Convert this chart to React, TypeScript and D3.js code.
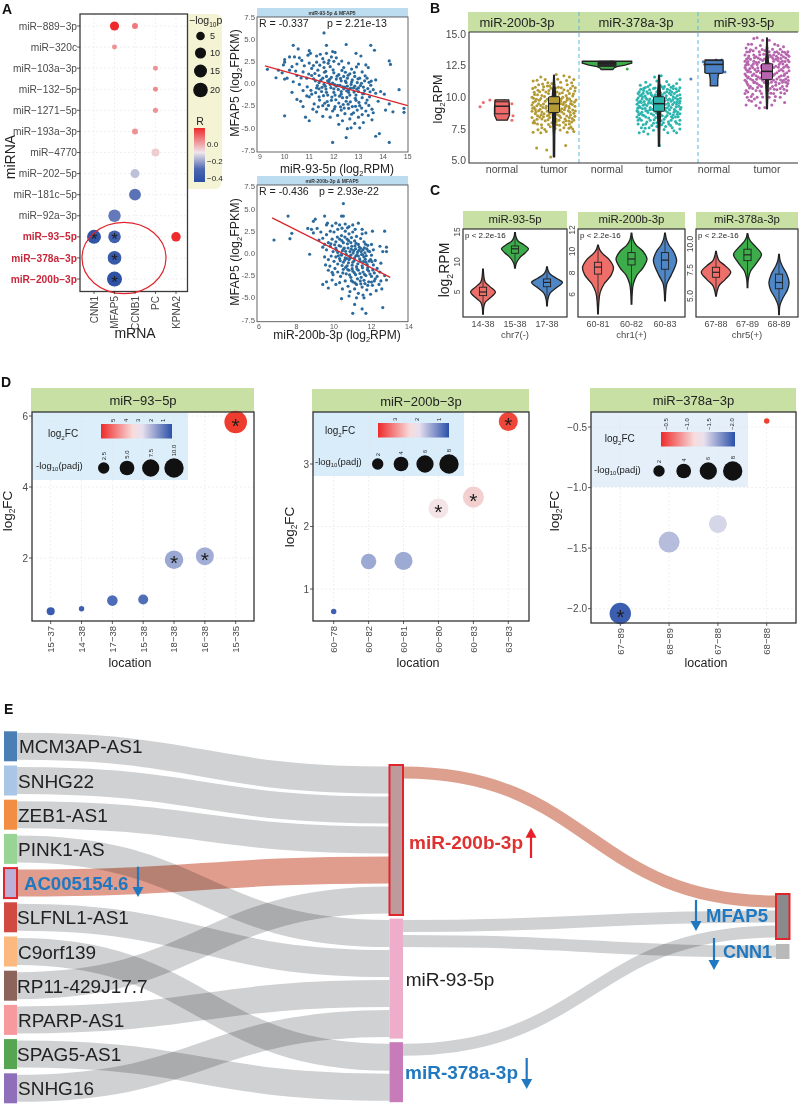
import * as d3 from "d3";

const FONT = "'Liberation Sans', Arial, sans-serif";
const MINUS = "\u2212";

// ---- panel A: bubble matrix
const mirnas = ["miR-889-3p", "miR-320c", "miR-103a-3p", "miR-132-5p", "miR-1271-5p", "miR-193a-3p", "miR-4770", "miR-202-5p", "miR-181c-5p", "miR-92a-3p", "miR-93-5p", "miR-378a-3p", "miR-200b-3p"];
const mrnas = ["CNN1", "MFAP5", "CCNB1", "PC", "KPNA2"];
const redMirnas = ["miR-93-5p", "miR-378a-3p", "miR-200b-3p"];
// mirna, mrna, R, -log10p, starred
const bubbles: [string, string, number, number, boolean][] = [
  ["miR-889-3p", "MFAP5", 0.19, 6, false],
  ["miR-889-3p", "CCNB1", 0.07, 1.6, false],
  ["miR-320c", "MFAP5", 0.03, 0.8, false],
  ["miR-103a-3p", "PC", 0.03, 0.8, false],
  ["miR-132-5p", "PC", 0.04, 0.8, false],
  ["miR-1271-5p", "PC", 0.03, 0.9, false],
  ["miR-193a-3p", "CCNB1", 0.03, 1.6, false],
  ["miR-4770", "PC", -0.06, 4, false],
  ["miR-202-5p", "CCNB1", -0.16, 5.7, false],
  ["miR-181c-5p", "CCNB1", -0.28, 12, false],
  ["miR-92a-3p", "MFAP5", -0.27, 13.5, false],
  ["miR-93-5p", "CNN1", -0.42, 18, true],
  ["miR-93-5p", "MFAP5", -0.337, 14, true],
  ["miR-93-5p", "KPNA2", 0.19, 6.5, false],
  ["miR-378a-3p", "MFAP5", -0.38, 17, true],
  ["miR-200b-3p", "MFAP5", -0.436, 21.5, true],
];
const pLegend = [5, 10, 15, 20];
const rLegend = [0, -0.2, -0.4];

// ---- panel A: scatter plots
const scatter93: [number, number][] = [
  [11.6,5.7],[10.35,4.3],[10.55,3.9],[11.7,4.3],[12.5,4.4],[13.5,4.3],[13.65,3.75],[9.3,1.6],[9.65,.65],[10,-3.65],[10.85,-3.8],[11,-4.2],[11.95,-6.65],[12.5,-6.1],[14.25,-6.65],[13.7,-5.95],[13.85,-5.65],[14.25,2.55],[14.3,2.15],[14.65,-.7],[14.85,-2.8],[14.85,-3.25],[14.4,-3.2],
  [10,2.7],[10,2.4],[9.95,2.1],[10.2,3],[10.4,3],[10.6,2.9],[10.7,2.6],[10.95,3.2],[11,3.7],[11.05,3.4],[11.3,3.1],[11.45,3.3],[11.55,2.8],[11.7,3.4],[11.9,3],[11.95,3.6],[12.05,3.5],[12.1,2.9],[11.8,2.6],[12,2.5],[11.6,2.4],[11.3,2.4],[11,2.3],[10.8,2],[10.5,2.2],[10.3,1.9],[9.75,1.5],[9.9,1.2],[10.2,1.5],[10.45,1.4],[10.75,1.3],[11.1,1.7],[11.35,1.5],[11.6,1.8],[11.85,1.9],[12.2,2.2],[12.4,1.8],[12.6,2.3],[12.9,3.4],[13,2.2],[13.1,3.1],[13.3,2.1],[13.4,1.8],[13.7,.4],[13.9,-.9],[14.05,-1.2],[14.25,-2.3],[14.1,-3],
  [10,.5],[10.1,.6],[10.35,.2],[10.6,-.1],[10.5,.9],[10.9,.6],[11.1,.9],[11.25,.3],[11.4,.9],[11.55,.6],[11.7,.8],[11.8,.2],[11.9,.7],[12,1.2],[12.1,.5],[12.2,1],[12.3,.3],[12.4,.8],[12.5,.1],[12.55,.6],[12.65,1.1],[12.75,.4],[12.85,.8],[12.95,.1],[13.05,.6],[13.15,1.3],[13.25,.3],[13.35,.6],[13.5,-.2],[13.6,-.7],
  [10.3,-1],[10.5,-1.8],[10.65,-2],[10.75,-.8],[10.9,-1.4],[11,-1.5],[11.1,-1.2],[11.2,-2.3],[11.3,-.5],[11.4,-1.5],[11.5,-.9],[11.55,-2.5],[11.65,-.3],[11.75,-1.3],[11.85,-.1],[11.9,-1.9],[12,-.6],[12.05,-1.3],[12.15,-.2],[12.2,-2.2],[12.3,-.9],[12.35,-1.6],[12.45,-.4],[12.5,-2],[12.6,-.7],[12.65,-1.3],[12.75,-2.6],[12.8,-.5],[12.9,-1.9],[13,-.9],[13.05,-2.5],[13.15,-1.6],[13.25,-.8],[13.3,-2.2],[13.45,-1.5],[13.55,-2.9],[13.7,-1.1],[13.8,-2],
  [10.75,-2.6],[11.15,-2.9],[11.3,-3.2],[11.55,-3.7],[11.7,-2.9],[11.85,-3.8],[11.95,-3.1],[12.05,-2.6],[12.15,-3.6],[12.2,-4.6],[12.3,-3],[12.35,-4.2],[12.45,-3.4],[12.55,-5.1],[12.6,-2.8],[12.65,-4],[12.7,-5],[12.8,-3.3],[12.85,-4.5],[12.95,-3],[13,-3.8],[13.05,-5],[13.15,-3.5],[13.2,-4.4],[13.3,-3.1],[13.4,-3.6],[13.55,-4.1],[13.6,-3.3],
  [11.4,.1],[11.6,-.1],[11.75,.3],[11.95,.05],[12.1,-.3],[12.25,-.2],[12.4,-.6],[12.55,-.3],[12.7,-.1],[12.85,-.3],[13,-.5],[13.2,-.4],[12,-1],[12.3,-1.2],[12.6,-1],[12.9,-1.3],[11.7,-1],[11.4,-.6],
  [11.23,1.13],[11.47,.37],[11.62,1.27],[11.83,.47],[11.97,1.53],[12.13,.83],[12.27,.57],[12.33,1.47],[12.47,.27],[12.58,.93],[12.72,.17],[12.83,1.23],[12.98,.53],[13.12,.03],[13.27,.87],[13.43,.13],[11.33,-.23],[11.52,-.43],[11.68,-.63],[11.88,-.47],[12.03,-.13],[12.18,-.67],[12.36,-.37],[12.52,-.83],[12.68,-.53],[12.82,-.97],[12.93,-.63],[13.08,-.23],[13.22,-1.13],[13.38,-.57],
  [11.07,-.77],[11.26,-1.03],[11.42,-1.87],[11.58,-1.37],[11.73,-2.03],[11.92,-1.53],[12.08,-1.83],[12.23,-1.43],[12.38,-2.37],[12.53,-1.57],[12.67,-2.07],[12.87,-1.67],[13.02,-2.13],[13.17,-1.17],[13.35,-1.87],[13.47,-.93],[11.37,-2.63],[11.63,-2.23],[11.78,-2.47],[12.02,-2.87],[12.27,-2.63],[12.42,-2.77],[12.58,-2.33],[12.72,-3.47],[12.88,-2.57],[13.13,-2.77],[13.42,-2.47],[10.92,-.37],[10.67,.63],[10.98,1.07],[11.17,2.03],[11.43,2.07],[11.77,2.27],[12.32,2.53],[12.72,1.63],[12.92,1.87],[11.67,1.37],[12.47,1.27],[11.18,.53],[13.52,.27],
];
const scatter200: [number, number][] = [
  [6.8,1.5],[7.55,4.2],[7.75,2.25],[7.65,1.65],[10.5,5.6],[10.4,4.2],[10.5,4.2],[9.5,4.2],[9,3.85],[8.9,3.6],[11,-6.75],[11.7,-6.75],[11.5,-6.25],[11.1,-5.75],[12.6,-6.1],[10.4,-5.1],[8.7,-.1],[12.8,.2],[12.6,.2],[12.45,.8],[12.8,.7],[12.7,2.5],[12.05,2.5],[12.8,-3],[12.7,-2.5],
  [8.6,2.8],[8.8,2.7],[8.9,2.3],[9.1,2.8],[9.3,2.4],[9.6,3.2],[9.65,3.4],[9.9,3.1],[10.1,3.4],[10.3,3.2],[10.6,3.3],[10.8,3],[11,3.2],[11.3,3.4],[11.5,2.7],[9.2,1.5],[9.4,1.7],[9.6,2.1],[9.8,2.5],[10,2.4],[10.2,2.7],[10.4,2],[10.6,2.5],[10.8,2.2],[11,2.4],[11.2,1.9],[11.5,2.2],[11.7,2.3],[9.5,1],[9.7,1.2],[9.9,1.6],[10.1,1.3],[10.3,1.6],[10.5,1.2],[10.7,1.6],[10.9,1.2],[11.1,1.4],[11.3,1],[11.6,1.3],[11.8,.9],[12,1],
  [9.4,.7],[9.6,.4],[9.8,.8],[9.95,.2],[10.1,.6],[10.2,.1],[10.35,.8],[10.45,.3],[10.55,.6],[10.65,-.1],[10.75,.6],[10.85,.2],[10.95,.8],[11.05,.3],[11.15,.5],[11.25,.1],[11.35,.7],[11.45,.2],[11.55,.4],[11.65,.05],[11.75,.5],[11.9,.2],[12,-.2],[12.1,.4],
  [9.5,-.4],[9.7,-.7],[9.85,-.3],[10,-.9],[10.1,-.4],[10.2,-1.2],[10.3,-.6],[10.4,-.2],[10.5,-1],[10.6,-.5],[10.7,-1.4],[10.8,-.7],[10.9,-.2],[11,-1],[11.1,-.5],[11.2,-1.5],[11.3,-.3],[11.4,-.9],[11.5,-1.4],[11.6,-.4],[11.7,-1],[11.8,-1.6],[11.95,-.7],[12.1,-1.3],[12.2,-.8],[12.3,-1.7],[12.5,-1.1],
  [9.7,-1.9],[9.95,-2.4],[10.05,-1.7],[10.2,-2.1],[10.35,-2.6],[10.5,-1.8],[10.65,-2.3],[10.8,-1.9],[10.9,-2.7],[11,-2],[11.15,-2.4],[11.3,-1.9],[11.45,-2.7],[11.55,-2.1],[11.7,-2.5],[11.85,-2],[12,-2.6],[12.15,-2.2],[12.3,-2.6],[12.45,-2.1],
  [9.4,-3.5],[9.6,-3.2],[9.7,-3.9],[9.9,-3],[10.1,-3.5],[10.3,-3.3],[10.45,-4],[10.6,-3.1],[10.75,-3.7],[10.85,-4.3],[11,-3.2],[11.1,-4],[11.2,-3.5],[11.3,-4.5],[11.4,-3.1],[11.5,-3.8],[11.55,-4.7],[11.65,-3.4],[11.75,-4.1],[11.85,-3.2],[11.95,-4.6],[12.05,-3.6],[12.15,-3.1],[12.25,-4.2],[12.4,-3.5],[12.55,-4],[12.5,-3.1],[11.2,-5],[10.8,-4.8],[11.6,-5],
  [10.13,.37],[10.27,.87],[10.38,-.13],[10.52,.53],[10.62,.23],[10.72,1.07],[10.82,-.33],[10.92,.47],[11.02,.03],[11.12,.83],[11.22,-.23],[11.32,.33],[11.42,.57],[11.52,-.17],[11.62,.63],[11.72,-.27],[11.82,.27],[10.23,-.27],[10.33,-.83],[10.43,-1.37],[10.57,-.77],[10.67,-.57],[10.77,-1.07],[10.87,-.53],[10.97,-1.33],[11.07,-.83],[11.17,-.27],[11.27,-1.17],[11.37,-.63],[11.47,-.13],[11.57,-.93],[11.67,-.67],[11.77,-1.27],[11.87,-.87],[12.02,-.93],[10.47,-2.2],[10.62,-1.57],[10.73,-1.83],[10.83,-2.43],[10.97,-1.73],[11.08,-2.17],[11.23,-1.77],[11.38,-2.27],[11.52,-1.63],[11.63,-2.37],[11.78,-1.83],[11.92,-2.33],[12.07,-1.87],[10.93,-3.07],[11.12,-3.33],[11.25,-2.87],[11.43,-3.43],[11.6,-3.03],[11.8,-3.6],[12,-3.23],[12.2,-2.87],[9.83,1.07],[10.03,.97],[10.18,1.83],[10.42,1.43],[10.58,1.83],[10.78,1.43],[10.93,1.77],[11.18,1.13],[11.42,1.67],[11.68,1.03],[10.43,2.83],[10.72,2.87],[11.13,2.7],[9.55,-1.3],[9.78,-1.43],[9.9,-2.13],
];
const line93: [number, number][] = [[9.2, 2.0], [15, -2.5]];
const line200: [number, number][] = [[6.7, 4.0], [13, -2.7]];
const scatterYTicks = [7.5, 5, 2.5, 0, -2.5, -5, -7.5];

// ---- panel B: jitter + violin + box
const jitterNormal200: [number, number][] = [[-1,9.25],[-.85,9.6],[-.55,9.8],[.45,9.5],[.5,8.55],[.45,8.2],[-.3,9.7],[.1,9.75]];
const jitterNormal378: [number, number][] = [[.92,12.24],[-.6,12.7],[.2,12.8]];
const jitterNormal93: [number, number][] = [[-1.05,11.45],[.35,12.95],[.3,12.3],[.5,12],[-.49,12.8],[-.42,12.6],[.1,12.95]];
const jitterTumor200: [number, number][] = [
  [-.79,6],[-.15,5.3],[-.33,5.85],[.53,6.2],[-.95,11.3],[-.85,10.8],[-.6,11.6],[-.4,11.4],[.1,11.8],[.45,11.7],[.7,11.6],[.9,11.4],[.3,11.2],[-.1,11.1],[-.7,11],[.6,11],[-.3,10.9],[.2,10.8],[.85,10.9],[-.9,10.4],[-.5,10.6],[0,10.5],[.45,10.6],[.95,10.5],[-.75,10.2],[-.25,10.3],[.25,10.3],[.7,10.3],[-1,10],[-.6,9.9],[-.1,10],[.4,10],[.85,10.1],[-.85,9.7],[-.4,9.7],[.15,9.8],[.6,9.8],[1,9.8],[-1,9.4],[-.7,9.5],[-.2,9.5],[.3,9.5],[.75,9.5],[-.9,9.2],[-.5,9.2],[-.05,9.2],[.5,9.2],[.95,9.3],[-1,8.9],[-.7,8.95],[-.3,8.9],[.2,9],[.65,8.95],[-.85,8.7],[-.45,8.7],[.05,8.7],[.45,8.7],[.9,8.75],[-1,8.4],[-.65,8.45],[-.2,8.4],[.3,8.4],[.7,8.4],[-.9,8.15],[-.4,8.15],[.1,8.1],[.55,8.15],[.9,8.2],[-.75,7.9],[-.25,7.85],[.25,7.8],[.7,7.9],[-.55,7.6],[.05,7.55],[.45,7.6],[.85,7.5],[-.95,7.25],[-.35,7.3],[.6,7.25],[.9,7.3],[-.6,7.2],
  [-.97,10.7],[-.2,10.9],[.75,10.7],[-.55,10.15],[.05,10.2],[.55,10.15],[-.8,9.85],[-.3,9.85],[.3,9.7],[.78,9.7],[-.6,9.35],[.1,9.4],[.55,9.35],[-.85,9.05],[-.15,9.05],[.35,9.1],[.85,9],[-.55,8.85],[.1,8.85],[.75,8.6],[-.75,8.55],[-.3,8.55],[.25,8.55],[.95,8.5],[-.55,8.3],[.1,8.3],[.5,8.3],[-.95,8],[-.1,8],[.8,8.05],[-.65,10.45],[.2,10.05],[.6,9.95],[-.05,9.65],[.45,9.6],[-.95,9.6],[-.35,9.3],[.7,9.15],[-.2,8.75],[.35,8.85],
  [-.88,10.23],[-.73,10.57],[-.47,10.83],[-.13,10.71],[.13,10.43],[.38,10.37],[.63,10.53],[.88,10.27],[-.93,9.93],[-.67,9.77],[-.43,10.07],[-.18,9.89],[.08,9.93],[.33,9.87],[.52,9.63],[.71,9.87],[.93,9.63],[-.78,9.33],[-.48,9.47],[-.12,9.37],[.22,9.27],[.42,9.43],[.67,9.27],[.83,9.43],[-.97,9.13],[-.63,9.07],[-.37,9.13],[-.02,9.02],[.27,8.97],[.47,9.03],[.73,8.83],[.97,8.93],[-.82,8.85],[-.58,8.63],[-.23,8.63],[.03,8.47],[.17,8.63],[.58,8.53],[.83,8.33],[-.77,8.27],[-.48,8.47],[-.27,8.23],[.23,8.2],[.43,8.03],[.68,8.13],[-.88,7.97],[-.57,7.83],[-.17,7.67],[.12,7.83],[.53,7.83],[.77,7.65],[-.73,7.45],[-.42,7.47],[.28,7.42],[.68,7.57],[-.23,10.55],[.33,10.75],[.57,11.33],[-.77,11.35],[-.28,11.15],[.8,11.15],[.17,11.43],[-.52,11.05],[.97,10.75],[-.37,10.43],[.07,10.73],
];
const jitterTumor378: [number, number][] = [
  [.02,6.2],[-.9,7.2],[-.7,7.3],[-.5,7.1],[.4,7.2],[.8,7.2],[-.25,7.4],[.95,7.5],[-.8,7.6],[-.45,7.6],[.6,7.6],[-.1,7.7],[.3,7.7],[-.95,7.9],[-.6,7.9],[-.25,7.95],[.45,7.9],[.8,7.95],[-.8,8.2],[-.4,8.2],[.1,8.15],[.55,8.2],[.95,8.2],[-1,8.45],[-.6,8.45],[-.15,8.4],[.3,8.45],[.75,8.45],[-.85,8.7],[-.35,8.7],[.05,8.65],[.5,8.7],[.95,8.7],[-1,8.95],[-.6,8.95],[-.2,8.9],[.3,8.95],[.75,8.95],[-.85,9.2],[-.4,9.2],[.1,9.15],[.55,9.2],[1,9.2],[-1,9.45],[-.65,9.45],[-.25,9.45],[.3,9.45],[.8,9.45],[-.85,9.7],[-.45,9.7],[.05,9.7],[.55,9.7],[.95,9.7],[-.95,9.95],[-.6,9.95],[-.2,9.95],[.3,9.95],[.75,9.95],[-.8,10.2],[-.35,10.2],[.15,10.2],[.55,10.2],[.95,10.2],[-.9,10.45],[-.55,10.45],[-.1,10.45],[.35,10.45],[.8,10.45],[-.7,10.7],[-.25,10.7],[.2,10.7],[.65,10.7],[.95,10.75],[-.85,10.95],[-.4,11],[.05,10.95],[.45,11],[.8,11.1],[-.6,11.2],[-.1,11.3],[.35,11.25],[.95,11.4],[-.2,11.6],[.1,11.7],
  [-.95,8.2],[-.55,8.05],[-.1,8],[.2,8],[.75,8.1],[-.75,8.6],[-.25,8.6],[.15,8.55],[.65,8.6],[-.95,8.85],[-.5,8.8],[.4,8.8],[.85,8.85],[-.75,9.1],[-.3,9.05],[.2,9.05],[.7,9.05],[-.9,9.3],[-.55,9.35],[0,9.3],[.45,9.35],[.9,9.3],[-.8,9.6],[-.35,9.55],[.2,9.6],[.7,9.6],[-1,9.8],[-.55,9.85],[-.1,9.85],[.4,9.8],[.85,9.85],[-.75,10.05],[-.3,10.1],[.1,10.05],[.65,10.05],[-.95,10.3],[-.5,10.3],[.25,10.35],[.7,10.3],[-.7,10.55],[0,10.6],[.5,10.55],[.9,10.55],[-.5,10.85],[.25,10.85],[.65,10.9],
  [-.88,8.33],[-.68,8.57],[-.47,8.37],[-.22,8.23],[.03,8.37],[.23,8.27],[.43,8.07],[.62,8.37],[.87,8.47],[-.92,8.63],[-.53,8.93],[-.12,8.77],[.37,8.57],[.57,8.47],[.83,8.67],[-.78,8.83],[-.42,9.03],[-.07,9.03],[.28,9.13],[.48,9.03],[.68,8.83],[.97,9.07],[-.97,9.13],[-.63,9.13],[-.17,9.23],[.13,9.33],[.38,9.17],[.78,9.23],[-.72,9.37],[-.48,9.53],[-.13,9.53],[.08,9.57],[.42,9.53],[.62,9.43],[.93,9.53],[-.93,9.6],[-.67,9.67],[-.28,9.73],[.27,9.73],[.48,9.87],[.82,9.67],[-.77,9.87],[-.42,9.87],[.03,9.97],[.17,9.87],[.63,9.83],[.97,9.93],[-.87,10.13],[-.63,10.1],[-.17,10.2],[.33,10.13],[.47,10.33],[.83,10.13],[-.72,10.33],[-.38,10.37],[.07,10.37],[.58,10.43],[.78,10.67],[-.83,10.63],[-.43,10.6],[-.17,10.73],[.38,10.63],[-.62,10.77],[.12,10.83],[.55,10.8],[-.72,7.83],[-.33,7.77],[.12,7.83],[.53,7.77],[.93,7.87],[-.63,7.57],[.23,7.47],[.68,7.37],
];
const jitterTumor93: [number, number][] = [
  [-.85,14.2],[-.6,14.65],[-.45,14.7],[-.2,14.5],[.1,14.5],[-.7,14.2],[-.3,14.1],[.35,14.2],[.5,14.1],[.75,14],[-.95,13.9],[-.5,13.9],[0,13.9],[.25,13.8],[.6,13.8],[.95,13.6],[-.8,13.6],[-.35,13.6],[.1,13.6],[.45,13.6],[.8,13.55],[-1,13.35],[-.6,13.35],[-.15,13.4],[.3,13.35],[.65,13.35],[1,13.25],[-.85,13.1],[-.4,13.1],[.05,13.15],[.5,13.1],[.85,13.1],[-1,12.85],[-.6,12.85],[-.2,12.9],[.3,12.85],[.7,12.85],[1,12.8],[-.85,12.6],[-.45,12.6],[.1,12.65],[.55,12.6],[.9,12.55],[-1,12.35],[-.65,12.35],[-.25,12.35],[.3,12.35],[.75,12.35],[-.85,12.1],[-.4,12.1],[.05,12.1],[.55,12.1],[1,12.1],[-1,11.85],[-.6,11.85],[-.15,11.85],[.35,11.85],[.8,11.85],[-.85,11.6],[-.4,11.6],[.1,11.6],[.55,11.6],[.95,11.6],[-1,11.35],[-.65,11.35],[-.2,11.35],[.3,11.35],[.75,11.35],[-.9,11.1],[-.45,11.1],[.05,11.1],[.55,11.1],[.95,11.1],[-.75,10.85],[-.25,10.85],[.25,10.85],[.7,10.85],[-.95,10.55],[-.5,10.55],[.05,10.55],[.45,10.6],[.9,10.55],[-1,10.3],[-.65,10.25],[-.25,10.3],[.3,10.3],[.8,10.3],[-.9,10],[-.45,10],[.1,10],[.6,10],[-.7,9.7],[-.3,9.6],[.35,9.75],[.8,9.6],[-.95,9.4],[-.5,9.35],[-.35,9.15],[-.1,9.2],
  [-.75,13.75],[-.1,13.7],[.35,13.55],[.7,13.6],[-.5,13.2],[.2,13.2],[.75,13.2],[-.75,13],[-.3,13],[.4,13],[.95,12.95],[-.9,12.7],[-.5,12.75],[.6,12.75],[-.7,12.5],[-.25,12.5],[.4,12.45],[.85,12.45],[-.95,12.2],[-.55,12.2],[.65,12.2],[-.75,12],[-.3,11.95],[.45,11.95],[.9,11.95],[-.95,11.7],[-.5,11.7],[.65,11.7],[-.75,11.45],[-.3,11.5],[.45,11.45],[.85,11.45],[-.55,11.2],[.2,11.2],[.7,11.2],[-.85,10.95],[-.35,10.95],[.4,10.95],[.9,10.9],[-.65,10.7],[.15,10.7],[.6,10.7],
  [-.92,13.57],[-.63,13.67],[-.22,13.77],[.53,13.47],[.87,13.43],[-.83,13.27],[-.33,13.37],[.13,13.33],[.43,13.25],[.93,13.37],[-.93,13.03],[-.57,13.13],[-.12,13.03],[.27,13.07],[.63,13.07],[-.87,12.83],[-.38,12.77],[.02,12.87],[.5,12.9],[.82,12.83],[-.97,12.53],[-.62,12.63],[-.07,12.47],[.23,12.6],[.72,12.63],[-.78,12.27],[-.42,12.33],[.12,12.33],[.52,12.37],[.97,12.37],[-.88,12.03],[-.47,12.03],[.17,12],[.73,12.07],[-.67,11.73],[-.22,11.67],[.28,11.73],[.78,11.73],[-.88,11.53],[-.47,11.43],[.17,11.45],[.62,11.37],[.97,11.33],[-.93,11.23],[-.6,11.17],[-.12,11.17],[.4,11.2],[.85,11.2],[-.8,10.73],[-.43,10.77],[.33,10.63],[.77,10.63],[-.87,10.43],[-.32,10.5],[.17,10.33],[.63,10.37],[-.72,10.07],[-.2,10.03],[.38,10.07],[-.57,9.87],[-.82,9.77],[.22,9.4],
];
const normal200Violin: [number, number][] = [[8.2,.7],[8.6,1],[9.2,1],[9.8,.9]];
const tumor200Violin: [number, number][] = [[5.3,.08],[7,.1],[7.6,.14],[8.5,.2],[9.5,.28],[10.5,.18],[11,.1],[11.75,.04]];
const normal378Violin: [number, number][] = [[12.2,.8],[12.3,.9],[12.42,1.3],[12.55,2.4],[12.7,3.3],[12.85,3.3]];
const tumor378Violin: [number, number][] = [[6.15,.08],[7.3,.1],[8,.14],[9,.24],[9.5,.28],[10.2,.2],[11,.12],[11.75,.05]];
const normal93Violin: [number, number][] = [[10.9,.5],[11.4,.5],[11.85,.6],[11.95,1.2],[12.5,1.2],[12.95,1.2]];
const tumor93Violin: [number, number][] = [[9.1,.05],[10.3,.12],[11.2,.18],[12,.28],[13,.16],[13.8,.08],[14.7,.04]];
const rpmTicks = [15, 12.5, 10, 7.5, 5];

// ---- panel C: violins by cluster
const c93Names = ["14-38", "15-38", "17-38"];
const c93Density: [number, number][][] = [
  [[1.3,.02],[2.5,.05],[3.3,.15],[4,.45],[5,.8],[5.9,.45],[6.6,.15],[7.5,.06],[8.8,.02]],
  [[9,.02],[9.8,.08],[10.7,.3],[11.5,.65],[12.2,.87],[12.9,.55],[13.5,.2],[14.2,.06],[14.9,.02]],
  [[2.7,.02],[3.8,.06],[4.8,.2],[5.7,.6],[6.6,1],[7.3,.6],[8,.2],[8.6,.07],[9.2,.02]],
];
const c93Box: [number, number, number][] = [[4.4, 5, 5.8], [11.45, 12.2, 12.67], [5.88, 6.6, 7.17]];
const c200Names = ["60-81", "60-82", "60-83"];
const c200Density: [number, number][][] = [
  [[4.2,.02],[5.2,.05],[6.2,.14],[7,.4],[7.8,.85],[8.5,1],[9.2,.75],[9.8,.3],[10.2,.1],[10.6,.02]],
  [[5.1,.02],[6.2,.05],[7,.12],[7.8,.35],[8.5,.75],[9.3,1],[10,.75],[10.6,.3],[11.1,.1],[11.7,.02]],
  [[5.4,.02],[6.3,.05],[7,.12],[7.8,.4],[8.6,.65],[9.2,.75],[10,.55],[10.6,.25],[11.1,.1],[11.7,.02]],
];
const c200Box: [number, number, number][] = [[7.9, 8.55, 9], [8.75, 9.3, 9.9], [8.35, 9.2, 9.9]];
const c378Names = ["67-88", "67-89", "68-89"];
const c378Density: [number, number][][] = [
  [[5,.02],[5.5,.08],[6,.2],[6.6,.6],[7.3,.95],[7.9,.6],[8.4,.2],[8.9,.07],[9.3,.02]],
  [[5.8,.02],[6.7,.06],[7.4,.2],[8.2,.6],[9,.9],[9.7,.55],[10.3,.18],[10.6,.08],[11,.02]],
  [[3.2,.02],[4.1,.06],[4.8,.25],[5.6,.55],[6.3,.65],[7.1,.5],[7.9,.2],[8.5,.06],[9,.02]],
];
const c378Box: [number, number, number][] = [[6.8, 7.28, 7.76], [8.4, 8.96, 9.5], [5.7, 6.3, 7.1]];
const violinColors = ["#ee6f6a", "#3cad4a", "#4f86c6"];

// ---- panel D: location bubbles
const d93Loc = ["15-37", "14-38", "17-38", "15-38", "18-38", "16-38", "15-35"];
const d93Fc = [0.5, 0.57, 0.8, 0.83, 1.95, 2.05, 5.83];
const d93Padj = [0.85, 0.16, 2, 1.7, 9, 8.3, 14.4];
const d93Sig = [false, false, false, false, true, true, true];
const d200Loc = ["60-78", "60-82", "60-81", "60-80", "60-83", "63-83"];
const d200Fc = [0.64, 1.44, 1.45, 2.29, 2.47, 3.68];
const d200Padj = [0.13, 4.5, 6.7, 8.6, 9.7, 7.6];
const d200Sig = [false, false, false, true, true, true];
const d378Loc = ["67-89", "68-89", "67-88", "68-88"];
const d378Fc = [-2.04, -1.45, -1.3, -0.45];
const d378Padj = [10.1, 9.7, 6.7, 0.13];
const d378Sig = [true, false, false, false];

// ---- panel E: sankey
const lncNames = ["MCM3AP-AS1", "SNHG22", "ZEB1-AS1", "PINK1-AS", "AC005154.6", "SLFNL1-AS1", "C9orf139", "RP11-429J17.7", "RPARP-AS1", "SPAG5-AS1", "SNHG16"];
const lncColors = ["#4a7fb5", "#a9c6e6", "#f28e44", "#98d595", "#bcb0d8", "#d04a41", "#fbb97f", "#8c6459", "#f79a9e", "#55a553", "#8f6fb9"];
const midNames = ["miR-200b-3p", "miR-93-5p", "miR-378a-3p"];
const midColors = ["#bd9a9c", "#eeaecb", "#c77cb9"];
const targetNames = ["MFAP5", "CNN1"];
const targetColors = ["#8a8a8c", "#b9b9b9"];
const lncLinks: [string, string][] = [
  ["MCM3AP-AS1", "miR-200b-3p"], ["SNHG22", "miR-200b-3p"], ["ZEB1-AS1", "miR-200b-3p"], ["AC005154.6", "miR-200b-3p"], ["RP11-429J17.7", "miR-200b-3p"],
  ["PINK1-AS", "miR-93-5p"], ["SLFNL1-AS1", "miR-93-5p"], ["RPARP-AS1", "miR-93-5p"], ["SNHG16", "miR-93-5p"],
  ["C9orf139", "miR-378a-3p"], ["SPAG5-AS1", "miR-378a-3p"],
];
const targetLinks: [string, string][] = [
  ["miR-200b-3p", "MFAP5"], ["miR-93-5p", "MFAP5"], ["miR-378a-3p", "MFAP5"], ["miR-93-5p", "CNN1"],
];

const STRIP = "#c8e0a4";
const BLUE = "#1f78c0";
const RED = "#e0252c";
const TICK = "#4a4a4a";
const INK = "#222";

const Sub = ({ a, s, b, size }: { a: string; s: string; b: string; size: number }) => (
  <>
    {a}
    <tspan dy={size * 0.25} fontSize={size * 0.62}>{s}</tspan>
    <tspan dy={-size * 0.25}>{b}</tspan>
  </>
);

const Arrow = ({ x, y0, y1, color }: { x: number; y0: number; y1: number; color: string }) => {
  const dir = y1 > y0 ? 1 : -1;
  return (
    <g>
      <line x1={x} x2={x} y1={y0} y2={y1 - dir * 6} stroke={color} strokeWidth={2.2} />
      <polygon points={`${x - 5.5},${y1 - dir * 10} ${x + 5.5},${y1 - dir * 10} ${x},${y1}`} fill={color} />
    </g>
  );
};

const Star = ({ x, y, size }: { x: number; y: number; size: number }) => (
  <text x={x} y={y + size * 0.5} fontSize={size} textAnchor="middle" fill="#1c1c1c">*</text>
);

function PanelA() {
  const x = d3.scalePoint<string>().domain(mrnas).range([94, 176]);
  const y = d3.scalePoint<string>().domain(mirnas).range([26, 279]);
  const r = d3.scaleSqrt().domain([0, 20]).range([1.29, 7.3]);
  const color = d3.scaleLinear<string>().domain([-0.45, -0.3, -0.1, 0.19]).range(["#2a4fa3", "#4a66b0", "#efe6ec", "#ee2a2a"]);
  const legendR = d3.scaleLinear().domain([0, -0.4]).range([144, 178]);
  const gradStops = [0.19, 0.1, 0, -0.1, -0.2, -0.3, -0.45];
  return (
    <g>
      <defs>
        <linearGradient id="rGrad" x1="0" x2="0" y1="0" y2="1">
          {gradStops.map((v) => (
            <stop key={v} offset={(0.19 - v) / 0.64} stopColor={color(v)} />
          ))}
        </linearGradient>
      </defs>
      <path d="M188,14 H216 Q222,14 222,22 V180 Q222,189 214,189 H188 Z" fill="#f4f4d4" />
      {mirnas.map((m) => (
        <line key={m} x1={80} x2={187} y1={y(m)} y2={y(m)} stroke="#e6e6e6" strokeWidth={0.6} strokeDasharray="2 2" />
      ))}
      {mrnas.map((m) => (
        <line key={m} y1={14} y2={291} x1={x(m)} x2={x(m)} stroke="#e6e6e6" strokeWidth={0.6} strokeDasharray="2 2" />
      ))}
      {bubbles.map(([mi, mr, R, p]) => (
        <circle key={mi + mr} cx={x(mr)} cy={y(mi)} r={r(p)} fill={color(R)} />
      ))}
      {bubbles.filter((b) => b[4]).map(([mi, mr]) => (
        <Star key={mi + mr} x={x(mr)!} y={y(mi)!} size={17} />
      ))}
      <rect x={80} y={14} width={107.5} height={277.5} fill="none" stroke="#3a3a3a" strokeWidth={1.3} />
      <ellipse cx={124} cy={258} rx={42} ry={35.6} fill="none" stroke={RED} strokeWidth={1.2} />
      {mirnas.map((m) => {
        const isRed = redMirnas.includes(m);
        return (
          <g key={m}>
            <line x1={77} x2={80} y1={y(m)} y2={y(m)} stroke="#333" strokeWidth={0.8} />
            <text x={77} y={y(m)! + 3.6} fontSize={10.2} textAnchor="end" fill={isRed ? "#c8283c" : TICK} fontWeight={isRed ? "bold" : "normal"}>
              {m.replaceAll("-", MINUS)}
            </text>
          </g>
        );
      })}
      {mrnas.map((m) => (
        <g key={m}>
          <line y1={291} y2={294} x1={x(m)} x2={x(m)} stroke="#333" strokeWidth={0.8} />
          <text transform={`translate(${x(m)! + 3.6},${296}) rotate(-90)`} fontSize={10} textAnchor="end" fill={TICK}>{m}</text>
        </g>
      ))}
      <text transform="translate(15,157) rotate(-90)" fontSize={14} textAnchor="middle" fill={INK}>miRNA</text>
      <text x={135} y={338} fontSize={14} textAnchor="middle" fill={INK}>mRNA</text>
      <text x={189} y={24} fontSize={10.5} fill={INK}>
        <Sub a={`${MINUS}log`} s="10" b="p" size={10.5} />
      </text>
      {pLegend.map((p, i) => (
        <g key={p}>
          <circle cx={200.5} cy={[36, 53, 71, 90][i]} r={r(p)} fill="#111" />
          <text x={210} y={[36, 53, 71, 90][i] + 3.2} fontSize={9} fill={INK}>{p}</text>
        </g>
      ))}
      <text x={200} y={125} fontSize={10.5} textAnchor="middle" fill={INK}>R</text>
      <rect x={194} y={128} width={11} height={54} fill="url(#rGrad)" />
      {rLegend.map((v) => (
        <text key={v} x={207} y={legendR(v) + 3} fontSize={8} fill={INK}>
          {v === 0 ? "0.0" : MINUS + Math.abs(v).toFixed(1)}
        </text>
      ))}
    </g>
  );
}

function Scatter({ pts, line, xDomain, xRange, xTicks, yRange, top, bottom, stripTop, title, rText, pText, pX, name, labelY, yLabelMid }: any) {
  const x = d3.scaleLinear().domain(xDomain).range(xRange);
  const y = d3.scaleLinear().domain([7.5, -7.5]).range(yRange);
  return (
    <g>
      <rect x={257} y={stripTop} width={151} height={top - stripTop} fill="#bcdcf0" />
      <text x={332} y={top - 2} fontSize={5} fontWeight="bold" textAnchor="middle" fill="#333">{title}</text>
      {pts.map((d: [number, number], i: number) => (
        <circle key={i} cx={x(d[0])} cy={y(d[1])} r={1.6} fill="#2a6a9c" />
      ))}
      <line x1={x(line[0][0])} y1={y(line[0][1])} x2={x(line[1][0])} y2={y(line[1][1])} stroke="#d8262c" strokeWidth={1.3} />
      <rect x={257} y={top} width={151} height={bottom - top} fill="none" stroke="#555" strokeWidth={0.9} />
      <text x={259} y={top + 9.5} fontSize={10.6} fill={INK}>{rText}</text>
      <text x={pX} y={top + 9.5} fontSize={10.6} fill={INK}>{pText}</text>
      {xTicks.map((t: number) => (
        <text key={t} x={x(t)} y={bottom + 7} fontSize={7} textAnchor="middle" fill="#555">{t}</text>
      ))}
      {scatterYTicks.map((t) => (
        <text key={t} x={255} y={y(t) + 2.7} fontSize={7.8} textAnchor="end" fill="#555">
          {t.toFixed(1)}
        </text>
      ))}
      <text x={337} y={labelY} fontSize={12} textAnchor="middle" fill={INK}>
        <Sub a={`${name} (log`} s="2" b="RPM)" size={12} />
      </text>
      <text transform={`translate(239,${yLabelMid}) rotate(-90)`} fontSize={12.4} textAnchor="middle" fill={INK}>
        <Sub a="MFAP5 (log" s="2" b="FPKM)" size={12.4} />
      </text>
    </g>
  );
}

function PanelB() {
  const y = d3.scaleLinear().domain([15, 5]).range([34, 160.7]);
  const w = d3.scaleLinear().domain([0, 1]).range([0, 7.5]);
  const groups = [
    { key: "n200", cx: 502, label: "normal", color: "#ee6a6a", pts: jitterNormal200, violin: normal200Violin, box: [8.7, 9.3, 9.65], bw: 7 },
    { key: "t200", cx: 554, label: "tumor", color: "#b29a35", pts: jitterTumor200, violin: tumor200Violin, box: [8.8, 9.5, 10.05], bw: 5.5 },
    { key: "n378", cx: 607, label: "normal", color: "#3fae49", pts: jitterNormal378, violin: normal378Violin, box: [12.45, 12.7, 12.85], bw: 9, boxFill: "#2a2a2a" },
    { key: "t378", cx: 659, label: "tumor", color: "#2cb5ae", pts: jitterTumor378, violin: tumor378Violin, box: [8.9, 9.5, 10.05], bw: 5.5 },
    { key: "n93", cx: 714, label: "normal", color: "#4a80c4", pts: jitterNormal93, violin: normal93Violin, box: [11.9, 12.6, 12.9], bw: 9 },
    { key: "t93", cx: 767, label: "tumor", color: "#b764ae", pts: jitterTumor93, violin: tumor93Violin, box: [11.4, 12.05, 12.65], bw: 5.5 },
  ];
  const strips = [
    { name: "miR-200b-3p", cx: 517 },
    { name: "miR-378a-3p", cx: 636 },
    { name: "miR-93-5p", cx: 744 },
  ];
  return (
    <g>
      <rect x={468} y={12} width={331} height={20} fill={STRIP} />
      {strips.map((s) => (
        <text key={s.name} x={s.cx} y={27} fontSize={13} textAnchor="middle" fill={INK}>{s.name}</text>
      ))}
      {groups.map((g) => {
        const area = d3.area<[number, number]>()
          .x0((d) => g.cx - w(d[1]))
          .x1((d) => g.cx + w(d[1]))
          .y((d) => y(d[0]))
          .curve(d3.curveLinear);
        return (
          <g key={g.key}>
            {g.pts.map((d, i) => (
              <circle key={i} cx={g.cx + d[0] * 22} cy={y(d[1])} r={1.5} fill={g.color} />
            ))}
            <path d={area(g.violin)!} fill={g.key.startsWith("n") ? g.color : "#222"} stroke="#222" strokeWidth={1.3} strokeLinejoin="round" />
            <rect x={g.cx - g.bw} width={g.bw * 2} y={y(g.box[2])} height={y(g.box[0]) - y(g.box[2])} fill={g.boxFill ?? g.color} stroke="#222" strokeWidth={1} rx={1} />
            <line x1={g.cx - g.bw} x2={g.cx + g.bw} y1={y(g.box[1])} y2={y(g.box[1])} stroke="#222" strokeWidth={1.5} />
            <text x={g.cx} y={173} fontSize={10.6} textAnchor="middle" fill={TICK}>{g.label}</text>
          </g>
        );
      })}
      {[579, 698].map((xv) => (
        <line key={xv} x1={xv} x2={xv} y1={12} y2={163} stroke="#59b8dc" strokeWidth={1} strokeDasharray="4 3" />
      ))}
      <path d="M469,32 H798 M469,32 V163 H798" fill="none" stroke="#333" strokeWidth={1.1} />
      {rpmTicks.map((t) => (
        <text key={t} x={466} y={y(t) + 3.6} fontSize={10.4} textAnchor="end" fill={TICK}>{t.toFixed(1)}</text>
      ))}
      <text transform="translate(442,99) rotate(-90)" fontSize={12.5} textAnchor="middle" fill={INK}>
        <Sub a="log" s="2" b="RPM" size={12.5} />
      </text>
    </g>
  );
}

function ViolinFacet({ x0, x1, stripTop, name, chr, names, density, box, yDomain, yRange, ticks, tickFormat, cxRange, tickX }: any) {
  const x = d3.scalePoint<string>().domain(names).range(cxRange);
  const y = d3.scaleLinear().domain(yDomain).range(yRange);
  const w = d3.scaleLinear().domain([0, 1]).range([0, 15.5]);
  return (
    <g>
      <rect x={x0} y={stripTop} width={x1 - x0} height={229 - stripTop} fill={STRIP} />
      <text x={(x0 + x1) / 2} y={223} fontSize={11.4} textAnchor="middle" fill={INK}>{name}</text>
      {names.map((n: string, i: number) => {
        const cx = x(n)!;
        const pts: [number, number][] = density[i];
        const area = d3.area<[number, number]>()
          .x0((d) => cx - w(d[1]))
          .x1((d) => cx + w(d[1]))
          .y((d) => y(d[0]))
          .curve(d3.curveCatmullRom.alpha(0.5));
        const [q1, med, q3] = box[i];
        return (
          <g key={n}>
            <path d={area(pts)!} fill={violinColors[i]} stroke="#222" strokeWidth={1.3} />
            <line x1={cx} x2={cx} y1={y(pts[0][0])} y2={y(pts[pts.length - 1][0])} stroke="#222" strokeWidth={0.8} />
            <rect x={cx - 3.6} width={7.2} y={y(q3)} height={y(q1) - y(q3)} fill={violinColors[i]} stroke="#222" strokeWidth={0.9} />
            <line x1={cx - 3.6} x2={cx + 3.6} y1={y(med)} y2={y(med)} stroke="#222" strokeWidth={1.2} />
            <text x={cx} y={327} fontSize={9} textAnchor="middle" fill={TICK}>{n}</text>
          </g>
        );
      })}
      <rect x={x0} y={229} width={x1 - x0} height={88} fill="none" stroke="#333" strokeWidth={1.2} />
      <text x={x0 + 2} y={238} fontSize={8} fill={INK}>p &lt; 2.2e-16</text>
      {ticks.map((t: number) => (
        <text key={t} transform={`translate(${tickX},${y(t)}) rotate(-90)`} fontSize={8.5} textAnchor="middle" fill={TICK}>
          {tickFormat ? t.toFixed(1) : t}
        </text>
      ))}
      <text x={(x0 + x1) / 2} y={338} fontSize={9.5} textAnchor="middle" fill={TICK}>{chr}</text>
    </g>
  );
}

function PanelC() {
  return (
    <g>
      <ViolinFacet x0={463} x1={567} stripTop={211} name="miR-93-5p" chr="chr7(-)" names={c93Names} density={c93Density} box={c93Box} yDomain={[5, 10]} yRange={[292, 262]} ticks={[15, 10, 5]} cxRange={[483, 547]} tickX={460} />
      <ViolinFacet x0={578} x1={685} stripTop={212} name="miR-200b-3p" chr="chr1(+)" names={c200Names} density={c200Density} box={c200Box} yDomain={[8, 10]} yRange={[273, 251.5]} ticks={[12, 10, 8, 6]} cxRange={[598, 665]} tickX={575} />
      <ViolinFacet x0={696} x1={798} stripTop={212} name="miR-378a-3p" chr="chr5(+)" names={c378Names} density={c378Density} box={c378Box} yDomain={[7.5, 10]} yRange={[270, 244]} ticks={[10, 7.5, 5]} tickFormat cxRange={[716, 779]} tickX={693} />
      <text transform="translate(449,270) rotate(-90)" fontSize={14} textAnchor="middle" fill={INK}>
        <Sub a="log" s="2" b="RPM" size={14} />
      </text>
    </g>
  );
}

function BubbleFacet({ id, x0, x1, top, bottom, stripTop, name, locs, fc, padj, sig, yDomain, yRange, yTicks, xFirst, xLast, colorDomain, padjMax, legend }: any) {
  const x = d3.scalePoint<string>().domain(locs.map((l: string, i: number) => `${i}`)).range([xFirst, xLast]);
  const y = d3.scaleLinear().domain(yDomain).range(yRange);
  const r = d3.scaleSqrt().domain([0, padjMax]).range([1.7, 9.7]);
  const color = d3.scaleLinear<string>().domain(colorDomain).range(["#3a5cb0", "#f4eef2", "#ee3f30"]);
  const fmt = (t: number) => (t < 0 ? MINUS + Math.abs(t).toFixed(1) : `${t}`);
  const gradId = `fc${id}`;
  return (
    <g>
      <defs>
        <linearGradient id={gradId} x1="0" x2="1" y1="0" y2="0">
          <stop offset="0" stopColor="#ee2a2a" />
          <stop offset="0.45" stopColor="#f8dcdc" />
          <stop offset="0.58" stopColor="#e8e0ee" />
          <stop offset="1" stopColor="#2a50a8" />
        </linearGradient>
      </defs>
      <rect x={x0 - 1} y={stripTop} width={x1 - x0 + 1} height={top - stripTop} fill={STRIP} />
      <text x={(x0 + x1) / 2} y={stripTop + 17} fontSize={13} textAnchor="middle" fill={INK}>{name.replaceAll("-", MINUS)}</text>
      <rect x={x0} y={top} width={legend.boxW} height={legend.boxH} fill={legend.fill} />
      {yTicks.map((t: number) => (
        <g key={t}>
          <line x1={x0} x2={x1} y1={y(t)} y2={y(t)} stroke="#e4e4e4" strokeWidth={0.6} strokeDasharray="2 2" />
          <line x1={x0 - 3} x2={x0} y1={y(t)} y2={y(t)} stroke="#333" strokeWidth={0.8} />
          <text x={x0 - 4} y={y(t) + 3.5} fontSize={10} textAnchor="end" fill={TICK}>{fmt(t)}</text>
        </g>
      ))}
      {locs.map((l: string, i: number) => {
        const cx = x(`${i}`)!;
        return (
          <g key={i}>
            <line x1={cx} x2={cx} y1={top} y2={bottom} stroke="#e4e4e4" strokeWidth={0.6} strokeDasharray="2 2" />
            <line x1={cx} x2={cx} y1={bottom} y2={bottom + 3} stroke="#333" strokeWidth={0.8} />
            <text transform={`translate(${cx + 3.4},${bottom + 5}) rotate(-90)`} fontSize={9.5} textAnchor="end" fill={TICK}>{l.replace("-", MINUS)}</text>
          </g>
        );
      })}
      {locs.map((l: string, i: number) => (
        <g key={i}>
          <circle cx={x(`${i}`)} cy={y(fc[i])} r={r(padj[i])} fill={color(fc[i])} />
          {sig[i] && <Star x={x(`${i}`)!} y={y(fc[i])} size={21} />}
        </g>
      ))}
      <rect x={x0} y={top} width={x1 - x0} height={bottom - top} fill="none" stroke="#333" strokeWidth={1.3} />
      <text x={legend.fcX} y={legend.fcY} fontSize={10} fill={INK}>
        <Sub a="log" s="2" b="FC" size={10} />
      </text>
      <rect x={legend.barX} y={legend.barY} width={legend.barW} height={14.5} fill={`url(#${gradId})`} />
      {legend.barLabels.map((t: string, i: number) => (
        <text key={t} transform={`translate(${legend.barTicks[i] + 2},${legend.barY - 2}) rotate(-90)`} fontSize={6} fill={INK}>{t}</text>
      ))}
      <text x={legend.padjX} y={legend.padjY} fontSize={9.5} fill={INK}>
        <Sub a="-log" s="10" b="(padj)" size={9.5} />
      </text>
      {legend.sizes.map((s: number, i: number) => (
        <g key={s}>
          <circle cx={legend.sizeX[i]} cy={legend.sizeY} r={r(s)} fill="#111" />
          <text transform={`translate(${legend.sizeX[i] + 2},${legend.sizeY - r(s) - 2}) rotate(-90)`} fontSize={6} fill={INK}>
            {legend.sizeFixed ? s.toFixed(1) : s}
          </text>
        </g>
      ))}
    </g>
  );
}

function PanelD() {
  return (
    <g>
      <BubbleFacet id="a" x0={32} x1={254} top={412} bottom={621} stripTop={388} name="miR-93-5p" locs={d93Loc} fc={d93Fc} padj={d93Padj} sig={d93Sig}
        yDomain={[2, 6]} yRange={[558, 416]} yTicks={[2, 4, 6]} xFirst={50.7} xLast={235.7} colorDomain={[0.5, 3.3, 5.8]} padjMax={10}
        legend={{ boxW: 156, boxH: 68, fill: "#dceefa", fcX: 48, fcY: 437, barX: 101, barY: 424, barW: 71, barLabels: ["5", "4", "3", "2", "1"], barTicks: [113, 126, 138, 151, 163], padjX: 36, padjY: 469, sizes: [2.5, 5, 7.5, 10], sizeX: [103.7, 127, 150.7, 174], sizeY: 468, sizeFixed: true }} />
      <BubbleFacet id="b" x0={313} x1={529} top={412} bottom={621} stripTop={389} name="miR-200b-3p" locs={d200Loc} fc={d200Fc} padj={d200Padj} sig={d200Sig}
        yDomain={[1, 3]} yRange={[589, 464]} yTicks={[1, 2, 3]} xFirst={333.7} xLast={508.3} colorDomain={[0.6, 2.2, 3.75]} padjMax={8}
        legend={{ boxW: 151, boxH: 64, fill: "#d8ecfa", fcX: 325, fcY: 434, barX: 378, barY: 423, barW: 71, barLabels: ["3", "2", "1"], barTicks: [395, 417, 439], padjX: 315, padjY: 465, sizes: [2, 4, 6, 8], sizeX: [377.7, 401, 425, 449], sizeY: 464 }} />
      <BubbleFacet id="c" x0={591} x1={796} top={412} bottom={623} stripTop={388} name="miR-378a-3p" locs={d378Loc} fc={d378Fc} padj={d378Padj} sig={d378Sig}
        yDomain={[-2, -0.5]} yRange={[608.7, 427]} yTicks={[-2, -1.5, -1, -0.5]} xFirst={620.3} xLast={766.7} colorDomain={[-2.05, -1.15, -0.45]} padjMax={8}
        legend={{ boxW: 157, boxH: 75, fill: "#e4effa", fcX: 604.7, fcY: 442, barX: 661, barY: 432, barW: 74, barLabels: [`${MINUS}0.5`, `${MINUS}1.0`, `${MINUS}1.5`, `${MINUS}2.0`], barTicks: [665.7, 687, 709, 731.7], padjX: 594, padjY: 473, sizes: [2, 4, 6, 8], sizeX: [659, 683.7, 708.3, 732.7], sizeY: 471 }} />
      {[{ x: 12, y: 511 }, { x: 294, y: 527 }, { x: 559, y: 511 }].map((p) => (
        <text key={p.x} transform={`translate(${p.x},${p.y}) rotate(-90)`} fontSize={13.5} textAnchor="middle" fill={INK}>
          <Sub a="log" s="2" b="FC" size={13.5} />
        </text>
      ))}
      {[130, 418, 706].map((xv) => (
        <text key={xv} x={xv} y={667} fontSize={12.5} textAnchor="middle" fill={INK}>location</text>
      ))}
    </g>
  );
}

function PanelE() {
  const yLnc = d3.scaleBand<string>().domain(lncNames).range([731.3, 1103.3]).paddingInner(4.2 / 34.2);
  const linkPath = d3.linkHorizontal<any, [number, number]>().x((d) => d[0]).y((d) => d[1]);
  const unitLeft = 30;
  const unitRight = 15;
  const midCounts = midNames.map((m) => lncLinks.filter((l) => l[1] === m).length);
  let cursor = 765;
  const midTop: Record<string, number> = {};
  const midH: Record<string, number> = {};
  midNames.forEach((m, i) => {
    midTop[m] = cursor;
    midH[m] = midCounts[i] * unitLeft;
    cursor += midH[m] + 3.6;
  });
  const tgtTop: Record<string, number> = { MFAP5: 894, CNN1: 944 };
  const tgtH: Record<string, number> = { MFAP5: unitRight * 3, CNN1: unitRight };

  const inOffset: Record<string, number> = {};
  const outOffset: Record<string, number> = {};
  const tgtOffset: Record<string, number> = {};

  const leftPaths = lncLinks.map(([s, t]) => {
    const off = inOffset[t] ?? 0;
    inOffset[t] = off + unitLeft;
    const sy = yLnc(s)! + yLnc.bandwidth() / 2;
    const ty = midTop[t] + off + unitLeft / 2;
    return { key: s, d: linkPath({ source: [17, sy], target: [389.5, ty] })!, hot: s === "AC005154.6" };
  });
  const rightPaths = targetLinks.map(([s, t]) => {
    const o = outOffset[s] ?? 0;
    outOffset[s] = o + unitRight;
    const o2 = tgtOffset[t] ?? 0;
    tgtOffset[t] = o2 + unitRight;
    return {
      key: s + t,
      d: linkPath({ source: [403, midTop[s] + o + unitRight / 2], target: [776, tgtTop[t] + o2 + unitRight / 2] })!,
      hot: s === "miR-200b-3p",
    };
  });
  const labelX: Record<string, number> = { "MCM3AP-AS1": 19, "AC005154.6": 24, "SLFNL1-AS1": 17, "RP11-429J17.7": 17, "SPAG5-AS1": 17 };
  return (
    <g>
      <g style={{ isolation: "isolate" }}>
        {leftPaths.map((p) => (
          <path key={p.key} d={p.d} fill="none" stroke={p.hot ? "#e09c8c" : "#d0d1d2"} strokeWidth={27} style={{ mixBlendMode: "multiply" }} />
        ))}
        {rightPaths.map((p) => (
          <path key={p.key} d={p.d} fill="none" stroke={p.hot ? "#dea08e" : "#d0d1d2"} strokeWidth={12} style={{ mixBlendMode: "multiply" }} />
        ))}
      </g>
      {lncNames.map((n, i) => (
        <g key={n}>
          <rect x={4} y={yLnc(n)} width={13} height={yLnc.bandwidth()} fill={lncColors[i]} stroke={n === "AC005154.6" ? RED : "none"} strokeWidth={2} />
          <text x={labelX[n] ?? 18} y={yLnc(n)! + 22} fontSize={n === "AC005154.6" ? 18.6 : 19} fontWeight={n === "AC005154.6" ? "bold" : "normal"} fill={n === "AC005154.6" ? BLUE : INK}>{n}</text>
        </g>
      ))}
      {midNames.map((m, i) => (
        <rect key={m} x={389.5} y={midTop[m]} width={13.5} height={midH[m]} fill={midColors[i]} stroke={i === 0 ? RED : "none"} strokeWidth={2} />
      ))}
      {targetNames.map((t, i) => (
        <rect key={t} x={776} y={tgtTop[t]} width={13.5} height={tgtH[t]} fill={targetColors[i]} stroke={i === 0 ? RED : "none"} strokeWidth={2} />
      ))}
      <text x={409} y={849} fontSize={19} fontWeight="bold" fill="#e03030">miR-200b-3p</text>
      <text x={405.7} y={985.7} fontSize={19} fill={INK}>miR-93-5p</text>
      <text x={405} y={1079} fontSize={19} fontWeight="bold" fill={BLUE}>miR-378a-3p</text>
      <text x={706} y={921.7} fontSize={18.6} fontWeight="bold" fill={BLUE}>MFAP5</text>
      <text x={723} y={957.7} fontSize={18} fontWeight="bold" fill={BLUE}>CNN1</text>
      <Arrow x={138} y0={866.7} y1={897} color={BLUE} />
      <Arrow x={531} y0={858} y1={827.7} color="#e8202a" />
      <Arrow x={526.7} y0={1058} y1={1089} color={BLUE} />
      <Arrow x={696} y0={900} y1={931} color={BLUE} />
      <Arrow x={714} y0={938} y1={970} color={BLUE} />
    </g>
  );
}

export default function App() {
  return (
    <svg width={800} height={1105} style={{ position: "absolute", left: 0, top: 0, background: "#fff" }} fontFamily={FONT}>
      {[["A", 2, 14], ["B", 430, 13], ["C", 430, 195], ["D", 1, 387], ["E", 4, 714]].map(([l, x, y]) => (
        <text key={l as string} x={x as number} y={y as number} fontSize={14} fontWeight="bold" fill="#111">{l}</text>
      ))}
      <PanelA />
      <Scatter pts={scatter93} line={line93} xDomain={[9, 15]} xRange={[260, 407.7]} xTicks={[9, 10, 11, 12, 13, 14, 15]} yRange={[17, 150]} top={17} bottom={152} stripTop={8}
        title="miR-93-5p & MFAP5" rText="R = -0.337" pText="p = 2.21e-13" pX={327} name="miR-93-5p" labelY={173} yLabelMid={83} />
      <Scatter pts={scatter200} line={line200} xDomain={[6, 14]} xRange={[259, 409]} xTicks={[6, 8, 10, 12, 14]} yRange={[186.7, 320]} top={185} bottom={321.7} stripTop={176}
        title="miR-200b-3p & MFAP5" rText="R = -0.436" pText="p = 2.93e-22" pX={319} name="miR-200b-3p" labelY={339} yLabelMid={252} />
      <PanelB />
      <PanelC />
      <PanelD />
      <PanelE />
    </svg>
  );
}
